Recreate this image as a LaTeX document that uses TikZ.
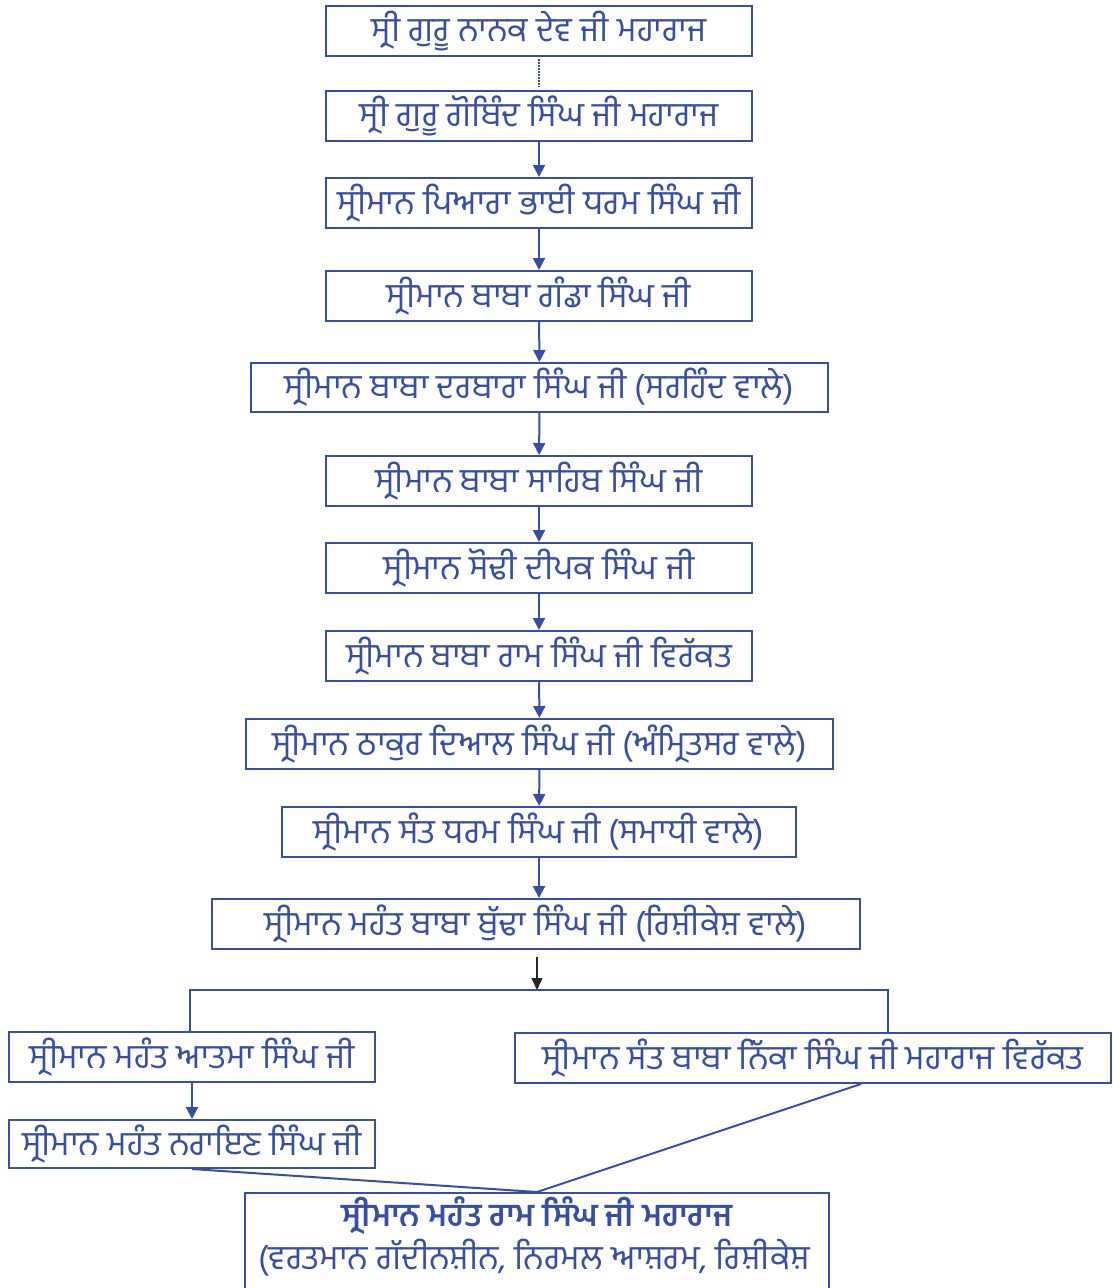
\documentclass[tikz,border=0pt]{standalone}
\usepackage{fontspec}
\newfontfamily\gur[Script=Gurmukhi]{Hind Jalandhar}
\usetikzlibrary{arrows.meta}
\definecolor{lineblue}{RGB}{56,78,166}
\tikzset{
  box/.style={draw=lineblue, line width=2pt, inner sep=0pt, text=lineblue,
    font=\gur\fontsize{34}{36}\selectfont, align=center},
  arr/.style={draw=lineblue, line width=2pt, -{Triangle[width=12pt,length=12pt]}},
  link/.style={draw=lineblue, line width=2pt},
  ramtext/.style={text=lineblue, inner sep=0pt, anchor=base, text depth=0pt},
}
\begin{document}
\begin{tikzpicture}[x=1pt,y=-1pt]
\useasboundingbox (0,0) rectangle (1112,1288);
\node[box, minimum width=426pt, minimum height=50pt] (n1) at (539,31) {ਸ੍ਰੀ ਗੁਰੂ ਨਾਨਕ ਦੇਵ ਜੀ ਮਹਾਰਾਜ};
\node[box, minimum width=426pt, minimum height=50pt] (n2) at (539,116) {ਸ੍ਰੀ ਗੁਰੂ ਗੋਬਿੰਦ ਸਿੰਘ ਜੀ ਮਹਾਰਾਜ};
\node[box, minimum width=426pt, minimum height=50pt] (n3) at (539,203) {ਸ੍ਰੀਮਾਨ ਪਿਆਰਾ ਭਾਈ ਧਰਮ ਸਿੰਘ ਜੀ};
\node[box, minimum width=426pt, minimum height=50pt] (n4) at (539,296) {ਸ੍ਰੀਮਾਨ ਬਾਬਾ ਗੰਡਾ ਸਿੰਘ ਜੀ};
\node[box, minimum width=577pt, minimum height=49pt] (n5) at (539.5,387.5) {ਸ੍ਰੀਮਾਨ ਬਾਬਾ ਦਰਬਾਰਾ ਸਿੰਘ ਜੀ (ਸਰਹਿੰਦ ਵਾਲੇ)};
\node[box, minimum width=426pt, minimum height=50pt] (n6) at (539,481) {ਸ੍ਰੀਮਾਨ ਬਾਬਾ ਸਾਹਿਬ ਸਿੰਘ ਜੀ};
\node[box, minimum width=426pt, minimum height=50pt] (n7) at (539,568) {ਸ੍ਰੀਮਾਨ ਸੋਢੀ ਦੀਪਕ ਸਿੰਘ ਜੀ};
\node[box, minimum width=426pt, minimum height=50pt] (n8) at (539,656) {ਸ੍ਰੀਮਾਨ ਬਾਬਾ ਰਾਮ ਸਿੰਘ ਜੀ ਵਿਰੱਕਤ};
\node[box, minimum width=587pt, minimum height=50pt] (n9) at (539.5,744) {ਸ੍ਰੀਮਾਨ ਠਾਕੁਰ ਦਿਆਲ ਸਿੰਘ ਜੀ (ਅੰਮ੍ਰਿਤਸਰ ਵਾਲੇ)};
\node[box, minimum width=514pt, minimum height=50pt] (n10) at (539,832) {ਸ੍ਰੀਮਾਨ ਸੰਤ ਧਰਮ ਸਿੰਘ ਜੀ (ਸਮਾਧੀ ਵਾਲੇ)};
\node[box, minimum width=648pt, minimum height=50pt] (n11) at (536,924) {ਸ੍ਰੀਮਾਨ ਮਹੰਤ ਬਾਬਾ ਬੁੱਢਾ ਸਿੰਘ ਜੀ (ਰਿਸ਼ੀਕੇਸ਼ ਵਾਲੇ)};
\node[box, minimum width=366pt, minimum height=50pt] (atma) at (192,1057) {ਸ੍ਰੀਮਾਨ ਮਹੰਤ ਆਤਮਾ ਸਿੰਘ ਜੀ};
\node[box, minimum width=596pt, minimum height=50pt] (nikka) at (813,1058) {ਸ੍ਰੀਮਾਨ ਸੰਤ ਬਾਬਾ ਨਿੱਕਾ ਸਿੰਘ ਜੀ ਮਹਾਰਾਜ ਵਿਰੱਕਤ};
\node[box, minimum width=366pt, minimum height=48pt] (narain) at (192,1144) {ਸ੍ਰੀਮਾਨ ਮਹੰਤ ਨਰਾਇਣ ਸਿੰਘ ਜੀ};
\node[box, minimum width=584pt, minimum height=116pt, anchor=north] (ram) at (537,1192) {};
\node[ramtext, font=\gur\bfseries\fontsize{32}{34}\selectfont] (ram1) at (537,1226) {ਸ੍ਰੀਮਾਨ ਮਹੰਤ ਰਾਮ ਸਿੰਘ ਜੀ ਮਹਾਰਾਜ};
\node[ramtext, font=\gur\fontsize{34}{36}\selectfont] (ram2) at (534,1269) {(ਵਰਤਮਾਨ ਗੱਦੀਨਸ਼ੀਨ, ਨਿਰਮਲ ਆਸ਼ਰਮ, ਰਿਸ਼ੀਕੇਸ਼};
% connectors
\draw[link, line width=2.4pt, dash pattern=on 1.6pt off 1.4pt, shorten <=2pt, shorten >=3pt] (n1) -- (n2);
\draw[arr] (n2) -- (n3);
\draw[arr] (n3) -- (n4);
\draw[arr] (n4) -- (n5);
\draw[arr] (n5) -- (n6);
\draw[arr] (n6) -- (n7);
\draw[arr] (n7) -- (n8);
\draw[arr] (n8) -- (n9);
\draw[arr] (n9) -- (n10);
\draw[arr] (n10) -- (n11.north -| n10.south);
\coordinate (bl) at (190,990);
\coordinate (br) at (888,990);
\coordinate (bs) at (537,957);
\draw[line width=1.4pt, black!85, -{Triangle[width=11pt,length=12pt]}] (bs) -- (bs |- bl);
\draw[link] (bl |- atma.north) -- (bl) -- (br) -- (br |- nikka.north);
\draw[arr] (atma) -- (narain);
\draw[link] (narain.south) -- (ram.north);
\draw[link] ([xshift=48pt]nikka.south) -- (ram.north);
\end{tikzpicture}
\end{document}
